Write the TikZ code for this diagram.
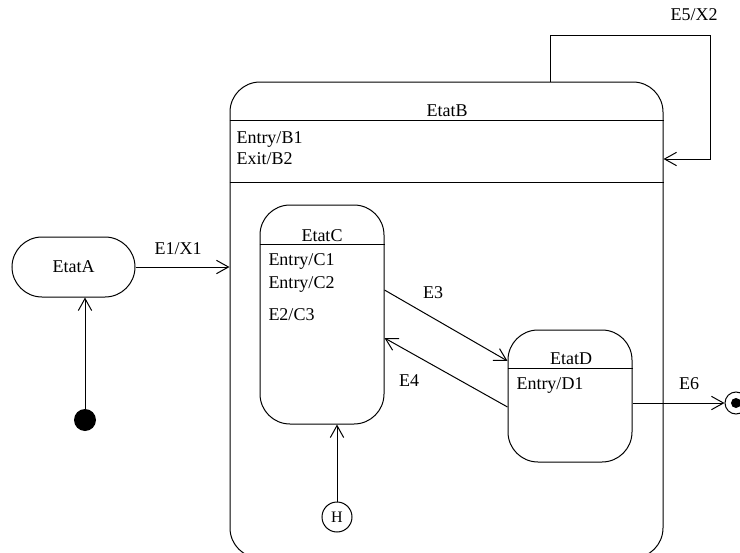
\documentclass[tikz,border=0pt]{standalone}
\usepackage{fontspec}
\setmainfont{Liberation Serif}
\usetikzlibrary{arrows.meta, positioning, calc}

\begin{document}
\begin{tikzpicture}[x=0.75pt, y=-0.75pt, line width=0.75pt,
        font=\fontsize{13.5}{16}\selectfont,
        etat/.style={draw, rounded corners=22.5pt, inner sep=0pt},
        lien/.style={-{Straight Barb[length=9pt, width=10pt]}},
        texte/.style={anchor=base west, inner sep=0pt},
        titre/.style={anchor=base, inner sep=0pt}]

        \def\px{0.75pt}

        \useasboundingbox (0,0) rectangle (740,553);

        % etats
        \node[etat, minimum width=433*\px, minimum height=476*\px] (etatB) at (446.5,320) {};
        \node[etat, minimum width=123*\px, minimum height=60*\px] (etatA) at (73.5,267) {EtatA};
        \node[etat, minimum width=124*\px, minimum height=219*\px] (etatC) at (322,314.5) {};
        \node[etat, minimum width=124*\px, minimum height=132*\px] (etatD) at (570,396) {};

        \draw ([yshift=-29.25pt]etatB.north west) -- ([yshift=-29.25pt]etatB.north east);
        \draw ([yshift=-75.75pt]etatB.north west) -- ([yshift=-75.75pt]etatB.north east);
        \draw ([yshift=-30pt]etatC.north west) -- ([yshift=-30pt]etatC.north east);
        \draw ([yshift=-29.25pt]etatD.north west) -- ([yshift=-29.25pt]etatD.north east);

        \node[titre] (nomB) at (447,116) {EtatB};
        \node[texte] (entreeB) at (236,143) {Entry/B1};
        \node[texte] (sortieB) at (236,164) {Exit/B2};
        \node[titre] (nomC) at (322,241) {EtatC};
        \node[texte] (entreeC1) at (268,265) {Entry/C1};
        \node[texte] (entreeC2) at (268,288) {Entry/C2};
        \node[texte] (interneC) at (268,320) {E2/C3};
        \node[titre] (nomD) at (571,364) {EtatD};
        \node[texte] (entreeD) at (516,389) {Entry/D1};

        % pseudo-etats
        \node[circle, fill, minimum size=22*\px, inner sep=0pt] (init) at (85,420) {};
        \node[circle, draw, minimum size=30*\px, inner sep=0pt, font=\fontsize{12}{14}\selectfont] (histo) at (337,517) {H};
        \node[circle, draw, minimum size=22*\px, inner sep=0pt] (fin) at (736,403) {};
        \fill (fin.center) circle (5);

        % transitions
        \draw[lien] (init) -- (init |- etatA.south);
        \draw[lien] (etatA.east) -- (etatA.east -| etatB.west);
        \node[titre] (lblE1) at (178,254) {E1/X1};

        \coordinate (coin) at (710,35);
        \draw[lien] ($(etatB.north)+(103.5,0)$) |- (coin) |- ($(etatB.east)+(0,-161)$);
        \node[titre] (lblE5) at (694,21) {E5/X2};

        \draw[lien] ($(etatC.east)+(0,-24.5)$) -- ($(etatD.west)+(0,-35)$);
        \node[titre] (lblE3) at (433,298) {E3};
        \draw[lien] ($(etatD.west)+(0,11)$) -- ($(etatC.east)+(0,23.5)$);
        \node[titre] (lblE4) at (409,386) {E4};

        \draw[lien] ($(etatD.east)+(0,7)$) -- (fin);
        \node[titre] (lblE6) at (689,389) {E6};

        \draw[lien] (histo) -- (histo |- etatC.south);

\end{tikzpicture}
\end{document}
